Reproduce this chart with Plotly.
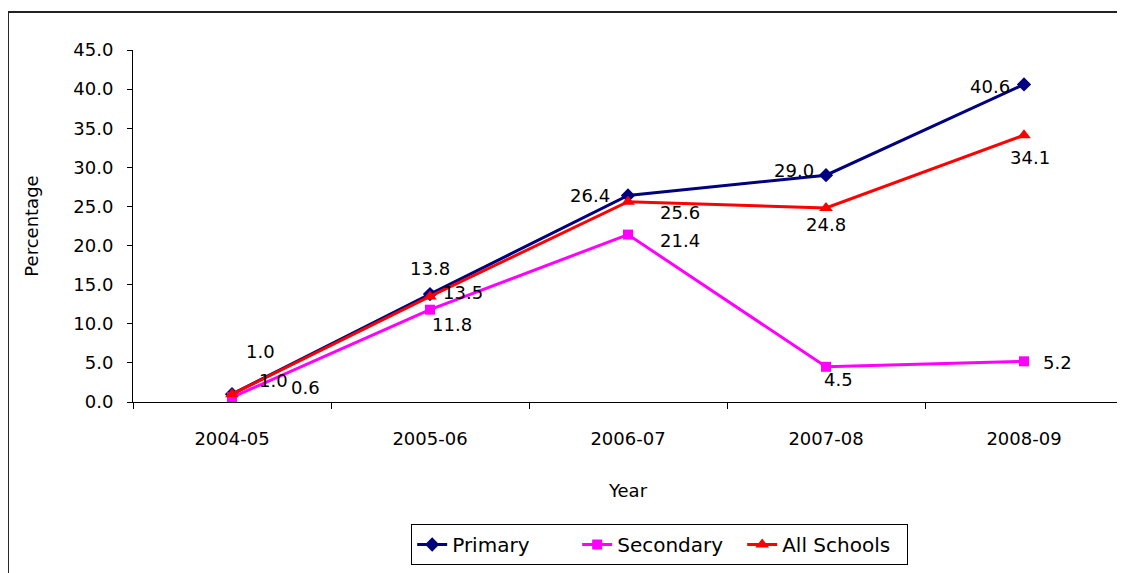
import plotly.graph_objects as go

years = ["2004-05", "2005-06", "2006-07", "2007-08", "2008-09"]
primary = [1.0, 13.8, 26.4, 29.0, 40.6]
secondary = [0.6, 11.8, 21.4, 4.5, 5.2]
all_schools = [1.0, 13.5, 25.6, 24.8, 34.1]

# label pixel offsets (style only)
off_primary = [(28, 43), (0, 26), (-38, 0), (-32, 5), (-34, -2)]
off_secondary = [(73, 10), (22, -15), (52, -6), (12, -13), (33, -1)]
off_all = [(41, 14), (33, 4), (52, -11), (0, -16), (6, -22)]

FONT = "'DejaVu Sans', sans-serif"

fig = go.Figure()
fig.add_trace(go.Scatter(x=years, y=primary, name="Primary", mode="lines+markers",
                         line=dict(color="#000080", width=3),
                         marker=dict(symbol="diamond", size=11, color="#000080")))
fig.add_trace(go.Scatter(x=years, y=secondary, name="Secondary", mode="lines+markers",
                         line=dict(color="#FF00FF", width=3),
                         marker=dict(symbol="square", size=10, color="#FF00FF")))
fig.add_trace(go.Scatter(x=years, y=all_schools, name="All Schools", mode="lines+markers",
                         line=dict(color="#FF0000", width=3),
                         marker=dict(symbol="triangle-up", size=12, color="#FF0000")))

annotations = []
for vals, offs in [(primary, off_primary), (secondary, off_secondary), (all_schools, off_all)]:
    for x, v, (dx, dy) in zip(years, vals, offs):
        annotations.append(dict(x=x, y=v, xref="x", yref="y", text=f"{v:.1f}",
                                showarrow=False, xshift=dx, yshift=dy,
                                font=dict(family=FONT, size=18, color="black")))

# page body has an 8px margin; figure placed so plot area spans x 133-1123, y 50-402
fig.update_layout(
    width=1117, height=565,
    margin=dict(l=125, r=2, t=42, b=171),
    paper_bgcolor="white", plot_bgcolor="white",
    font=dict(family=FONT, size=18, color="black"),
    showlegend=True,
    legend=dict(orientation="h", x=0.532, xanchor="center", y=-0.3466, yanchor="top",
                bordercolor="black", borderwidth=1, font=dict(family=FONT, size=20),
                tracegroupgap=0, entrywidth=120, entrywidthmode="pixels"),
    annotations=annotations,
    shapes=[dict(type="rect", xref="paper", yref="paper", x0=-0.1263, x1=1.02,
                 y0=-0.6, y1=1.108, line=dict(color="#222222", width=2), layer="below")],
)
fig.update_xaxes(type="category", showline=True, linecolor="black", linewidth=1,
                 ticks="outside", ticklen=6, tickson="boundaries", tickcolor="black",
                 showgrid=False, zeroline=False, range=[-0.5, 4.5], automargin=False,
                 ticklabelstandoff=20,
                 title=dict(text="Year", font=dict(family=FONT, size=18), standoff=36),
                 tickfont=dict(family=FONT, size=18))
fig.update_yaxes(range=[0, 45], dtick=5, tickformat=".1f", showline=True, linecolor="black",
                 linewidth=1, ticks="outside", ticklen=5, tickcolor="black",
                 showgrid=False, zeroline=False, automargin=False, ticklabelstandoff=10,
                 title=dict(text="Percentage", font=dict(family=FONT, size=18), standoff=30),
                 tickfont=dict(family=FONT, size=18))

fig.write_html("out.html")
